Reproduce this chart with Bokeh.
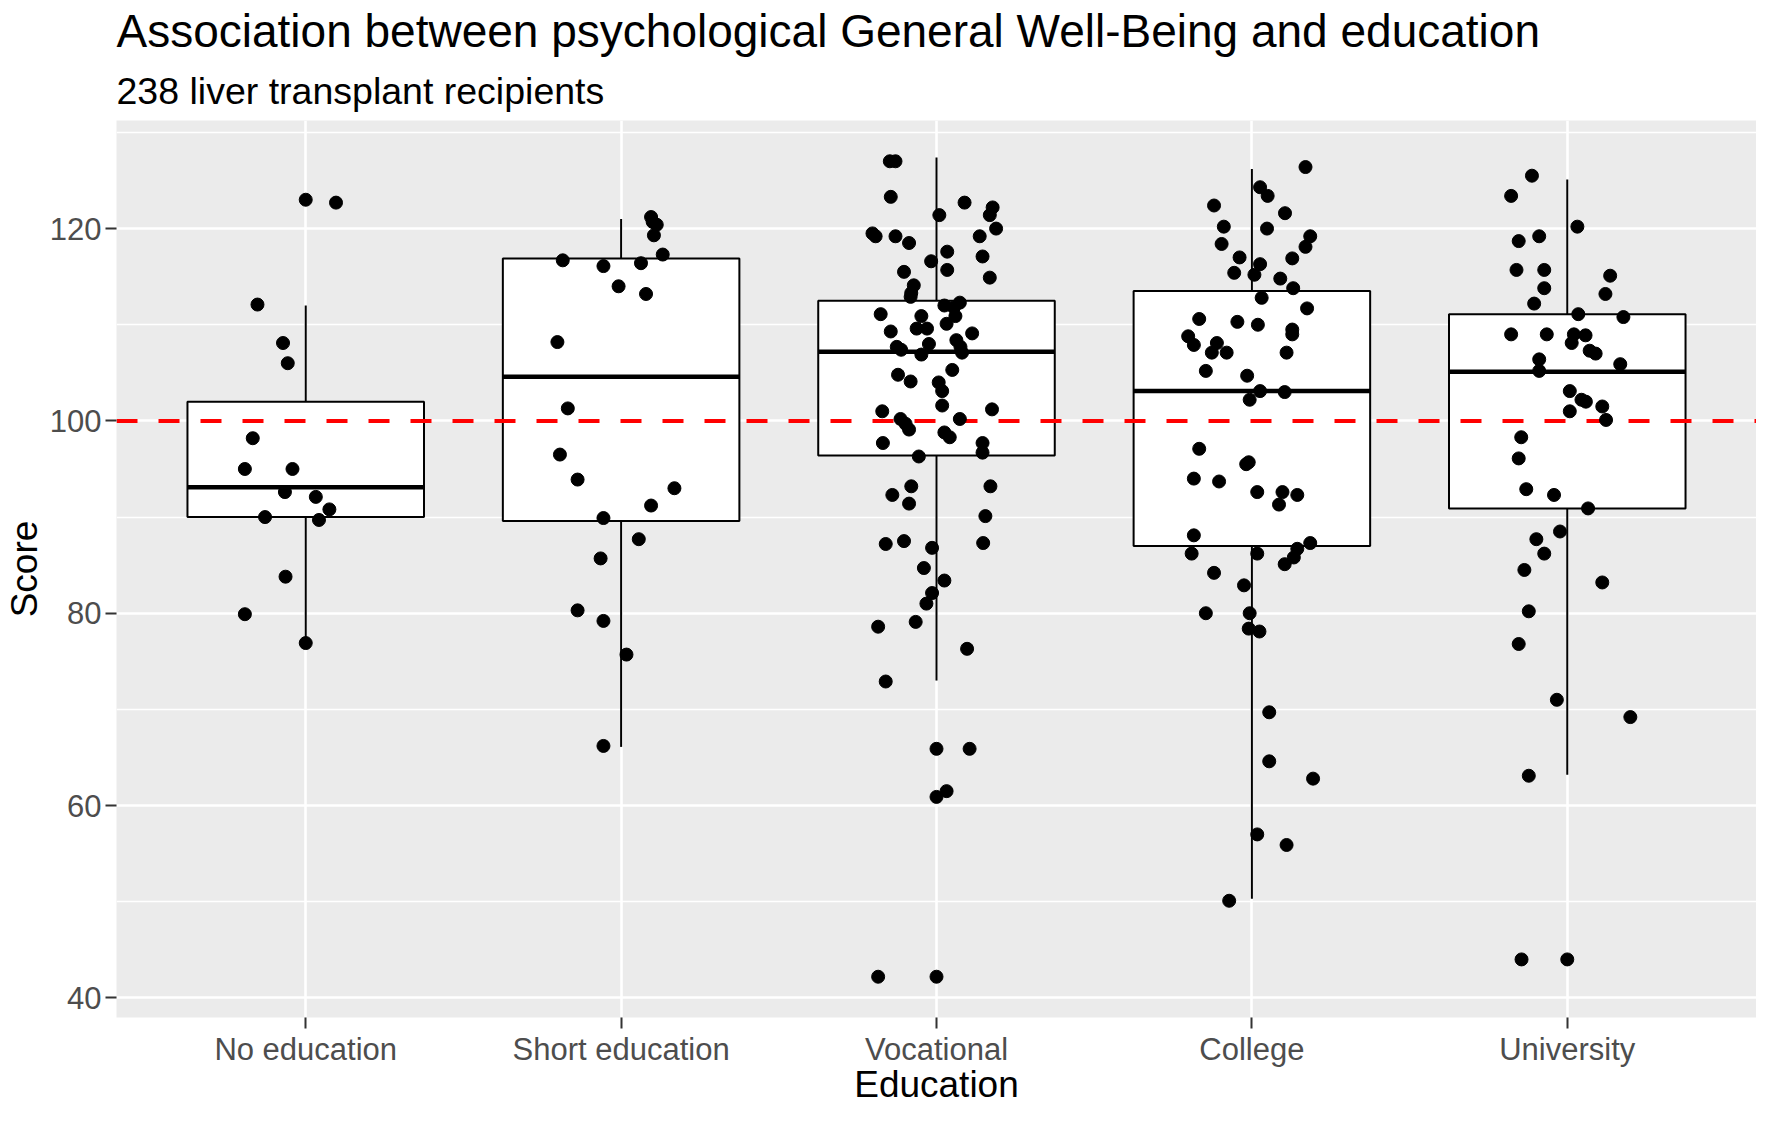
from bokeh.plotting import figure
from bokeh.models import ColumnDataSource, FixedTicker, Range1d, Title
from bokeh.embed import file_html
from bokeh.resources import INLINE
from bokeh.core.properties import value

# ---------------- data ----------------
categories = ["No education", "Short education", "Vocational", "College", "University"]

# box statistics per category
q1 = [90.0, 89.6, 96.4, 87.0, 90.9]
median = [93.1, 104.6, 107.2, 103.1, 105.1]
q3 = [102.0, 116.9, 112.5, 113.5, 111.1]
whisker_low = [76.9, 66.1, 73.0, 50.3, 63.2]
whisker_high = [112.0, 121.0, 127.4, 126.2, 125.1]

reference_score = 100

# jittered points: scores and horizontal jitter offsets
no_edu_scores = [123.0, 122.7, 112.1, 108.1, 106.0, 98.2, 95.0, 95.0, 92.6, 92.1,
                 90.8, 90.0, 89.7, 83.8, 79.9, 76.9]
no_edu_jitter = [0.0, 0.096, -0.153, -0.072, -0.057, -0.168, -0.193, -0.042, -0.066, 0.032,
                 0.075, -0.129, 0.042, -0.064, -0.193, 0.0]

short_scores = [121.2, 120.7, 120.4, 119.3, 117.3, 116.7, 116.1, 116.4, 114.0, 113.2,
                108.2, 101.3, 96.5, 93.9, 93.0, 91.2, 89.9, 87.7, 85.7, 80.3,
                79.2, 75.7, 66.2]
short_jitter = [0.095, 0.100, 0.113, 0.104, 0.132, -0.185, -0.056, 0.063, -0.008, 0.079,
                -0.202, -0.169, -0.194, -0.138, 0.169, 0.095, -0.056, 0.056, -0.065, -0.138,
                -0.056, 0.017, -0.056]

voc_scores = [127.0, 127.0, 123.3, 122.7, 122.2, 121.4, 121.4, 120.0, 119.5, 119.2,
              119.2, 118.5, 119.2, 117.6, 117.1, 116.6, 115.7, 115.5, 114.9, 114.1,
              113.3, 112.9, 112.3, 112.0, 111.8, 111.1, 110.9, 110.9, 110.1, 109.6,
              109.6, 109.3, 109.1, 108.4, 107.7, 108.0, 107.7, 107.4, 106.9, 107.1,
              105.3, 104.8, 104.1, 104.0, 103.1, 101.6, 101.0, 101.2, 100.2, 99.7,
              99.1, 100.2, 98.8, 98.3, 97.7, 97.7, 96.7, 96.3, 93.2, 92.3,
              93.2, 91.4, 90.1, 87.2, 87.5, 86.8, 87.3, 84.7, 83.4, 82.1,
              81.0, 79.1, 78.6, 76.3, 72.9, 65.9, 65.9, 61.5, 60.9, 42.2,
              42.2]
voc_jitter = [-0.148, -0.130, -0.145, 0.089, 0.178, 0.169, 0.009, 0.189, -0.203, -0.193,
              -0.130, -0.087, 0.137, 0.034, 0.146, -0.017, 0.034, -0.103, 0.169, -0.072,
              -0.080, -0.082, 0.074, 0.025, 0.055, -0.177, -0.048, 0.060, 0.032, -0.063,
              -0.030, -0.145, 0.113, 0.063, -0.126, -0.024, 0.076, -0.112, -0.048, 0.081,
              0.050, -0.122, -0.082, 0.007, 0.018, 0.018, -0.172, 0.176, -0.114, -0.098,
              -0.087, 0.074, 0.025, 0.042, -0.170, 0.146, 0.146, -0.056, -0.080, -0.140,
              0.171, -0.087, 0.155, -0.161, -0.103, -0.014, 0.148, -0.040, 0.025, -0.014,
              -0.032, -0.066, -0.185, 0.097, -0.161, 0.0, 0.105, 0.032, 0.0, -0.185,
              0.0]

college_scores = [126.4, 124.3, 123.4, 122.4, 121.6, 120.2, 120.0, 119.2, 118.1, 118.4,
                  117.0, 116.9, 116.3, 115.4, 115.2, 114.8, 113.8, 112.8, 111.7, 110.6,
                  110.3, 110.0, 109.5, 109.0, 108.8, 107.9, 108.1, 107.1, 107.1, 107.1,
                  105.2, 104.7, 103.1, 103.0, 102.2, 97.1, 95.7, 95.5, 94.0, 93.7,
                  92.6, 92.6, 92.3, 91.3, 88.1, 86.2, 86.2, 87.3, 86.7, 85.8,
                  85.1, 84.2, 82.9, 80.0, 80.0, 78.4, 78.1, 69.7, 64.6, 62.8,
                  57.0, 55.9, 50.1]
college_jitter = [0.170, 0.026, 0.050, -0.120, 0.105, -0.089, 0.048, 0.185, 0.170, -0.096,
                  -0.039, 0.128, 0.026, -0.056, 0.008, 0.090, 0.131, 0.031, 0.175, -0.167,
                  -0.046, 0.019, 0.128, 0.128, -0.202, -0.184, -0.111, -0.127, -0.080, 0.110,
                  -0.146, -0.015, 0.026, 0.104, -0.007, -0.167, -0.010, -0.018, -0.184, -0.104,
                  0.017, 0.097, 0.144, 0.086, -0.184, -0.191, 0.017, 0.185, 0.144, 0.133,
                  0.104, -0.120, -0.025, -0.146, -0.007, -0.010, 0.024, 0.055, 0.055, 0.194,
                  0.017, 0.110, -0.072]

univ_scores = [125.5, 123.4, 120.2, 119.2, 118.7, 115.7, 115.7, 115.1, 113.8, 113.2,
               112.2, 111.1, 110.8, 109.0, 109.0, 109.0, 108.9, 108.1, 107.3, 107.0,
               106.4, 105.2, 105.9, 103.1, 102.2, 102.0, 101.5, 101.0, 100.1, 98.3,
               96.1, 92.9, 92.3, 90.9, 88.5, 87.7, 86.2, 84.5, 83.2, 80.2,
               76.8, 71.0, 69.2, 63.1, 44.0, 44.0]
univ_jitter = [-0.112, -0.178, 0.032, -0.089, -0.154, -0.161, -0.073, 0.136, -0.073, 0.121,
               -0.105, 0.035, 0.178, -0.178, -0.065, 0.021, 0.058, 0.014, 0.071, 0.090,
               -0.089, -0.089, 0.168, 0.008, 0.045, 0.059, 0.111, 0.008, 0.123, -0.146,
               -0.154, -0.130, -0.042, 0.066, -0.023, -0.098, -0.073, -0.136, 0.111, -0.122,
               -0.154, -0.033, 0.200, -0.122, -0.145, 0.0]

y_ticks = [40, 60, 80, 100, 120]
y_minor = [50, 70, 90, 110, 130]

# ---------------- build sources ----------------
positions = list(range(1, len(categories) + 1))
BOX_W = 0.75

box_src = ColumnDataSource(dict(
    left=[p - BOX_W / 2 for p in positions],
    right=[p + BOX_W / 2 for p in positions],
    x=positions, q1=q1, q3=q3, med=median, lo=whisker_low, hi=whisker_high,
))

all_scores = [no_edu_scores, short_scores, voc_scores, college_scores, univ_scores]
all_jitter = [no_edu_jitter, short_jitter, voc_jitter, college_jitter, univ_jitter]
px, py = [], []
for pos, sc, jt in zip(positions, all_scores, all_jitter):
    for s, j in zip(sc, jt):
        px.append(pos + j)
        py.append(s)
pt_src = ColumnDataSource(dict(x=px, y=py))

# ---------------- figure ----------------
x_start, x_end = 0.4, len(categories) + 0.6
y_lo, y_hi = min(py), max(py)
pad = (y_hi - y_lo) * 0.05

p = figure(width=1756, height=1107, output_backend="svg", toolbar_location=None,
           x_range=Range1d(x_start, x_end), y_range=Range1d(y_lo - pad, y_hi + pad),
           title=None, min_border_left=111, min_border_right=0,
           min_border_top=0, min_border_bottom=0)

p.background_fill_color = "#EBEBEB"
p.border_fill_color = "white"
p.outline_line_color = None

sub = Title(text="238 liver transplant recipients", align="left",
            text_font_size="37.5px", text_font_style="normal", text_color="black",
            standoff=18)
sub.text_font = "Liberation Sans"
p.add_layout(sub, "above")
ttl = Title(text="Association between psychological General Well-Being and education",
            align="left", text_font_size="46px", text_font_style="normal",
            text_color="black", standoff=4)
ttl.text_font = "Liberation Sans"
p.add_layout(ttl, "above")

xt = FixedTicker(ticks=positions)
yt = FixedTicker(ticks=y_ticks, minor_ticks=y_minor)
p.xaxis.ticker = xt
p.yaxis.ticker = yt
p.xgrid.ticker = xt
p.ygrid.ticker = yt
p.xaxis.major_label_overrides = {pos: c for pos, c in zip(positions, categories)}

p.xgrid.grid_line_color = "white"
p.xgrid.grid_line_width = 2.6
p.ygrid.grid_line_color = "white"
p.ygrid.grid_line_width = 2.6
p.ygrid.minor_grid_line_color = "white"
p.ygrid.minor_grid_line_width = 1.3

for ax in (p.xaxis[0], p.yaxis[0]):
    ax.axis_line_color = None
    ax.major_tick_line_color = "#333333"
    ax.major_tick_line_width = 2
    ax.major_tick_in = 0
    ax.major_tick_out = 11
    ax.minor_tick_line_color = None
    ax.major_label_text_font = "Liberation Sans"
    ax.major_label_text_font_size = "31px"
    ax.major_label_text_color = "#4D4D4D"
    ax.axis_label_text_font = "Liberation Sans"
    ax.axis_label_text_font_size = "37px"
    ax.axis_label_text_font_style = "normal"
    ax.axis_label_text_color = "black"

p.xaxis.axis_label = "Education"
p.yaxis.axis_label = "Score"
p.xaxis.major_label_standoff = 3
p.xaxis.axis_label_standoff = -6
p.yaxis.major_label_standoff = 4
p.yaxis.axis_label_standoff = 2

# boxplots
p.segment(x0="x", x1="x", y0="q3", y1="hi", source=box_src, line_color="black", line_width=2)
p.segment(x0="x", x1="x", y0="lo", y1="q1", source=box_src, line_color="black", line_width=2)
p.quad(left="left", right="right", bottom="q1", top="q3", source=box_src,
       fill_color="white", line_color="black", line_width=2)
p.segment(x0="left", x1="right", y0="med", y1="med", source=box_src,
          line_color="black", line_width=4.5)

# reference line
p.segment(x0=[x_start], x1=[x_end], y0=[reference_score], y1=[reference_score],
          line_color="#FF0000", line_width=4, line_dash="21 21")

# points
p.scatter(x="x", y="y", source=pt_src, size=13, color="black")

open("out.html", "w").write(file_html(p, INLINE))
